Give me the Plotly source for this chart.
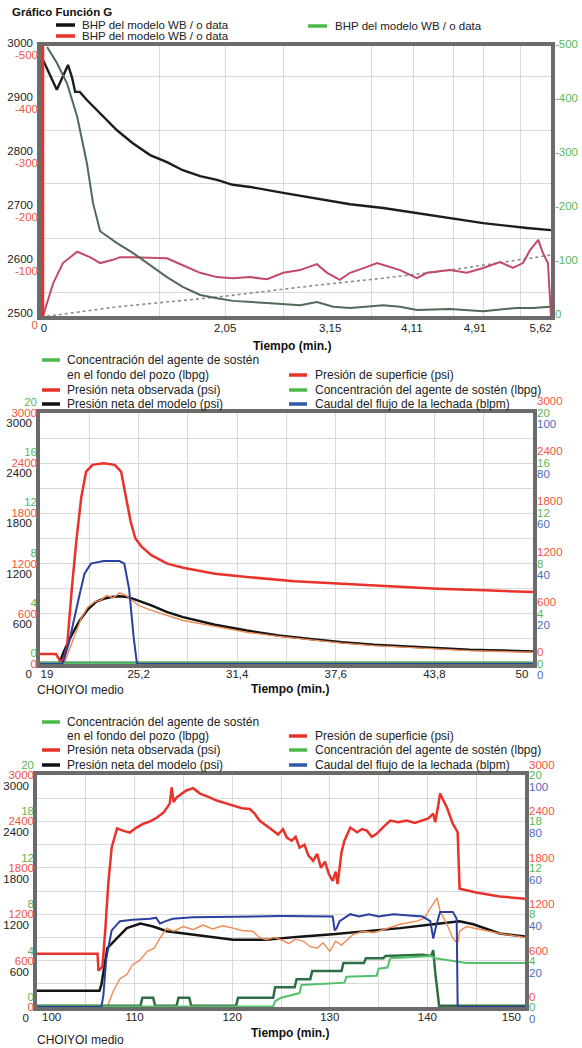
import plotly.graph_objects as go

W, H = 582, 1048
FONT = "Liberation Sans, Arial, Helvetica, sans-serif"

RED = "#e8322a"
BLACK = "#141414"
BLUE = "#2b3f9e"
DKGREEN = "#2f6e44"
LTGREEN = "#55c06a"
ORANGE = "#f08a52"
RED_LBL = "#f2553f"
GREEN_LBL = "#56b956"
BLUE_LBL = "#4a6cbb"
LEG_GREEN = "#4cb84c"
LEG_BLUE = "#2f5aa8"

# ---------------- Panel 1 : Gráfico Función G ----------------
# x = position along the G-function axis (0..1), labelled with elapsed minutes
p1_tick_pos = [0.006, 0.361, 0.567, 0.727, 0.851, 0.98]
p1_tick_txt = ["0", "2,05", "3,15", "4,11", "4,91", "5,62"]
p1_grid_x = [0.233, 0.3615, 0.475, 0.649, 0.7295, 0.808, 0.867, 0.941]
p1_grid_y = [2543, 2644, 2746, 2844, 2943]
p1_left_vals = [2500, 2600, 2700, 2800, 2900, 3000]
p1_neg_vals = [0, -100, -200, -300, -400, -500]

p1_bhp_black = [(0.004, 2974), (0.031, 2919), (0.053, 2965), (0.061, 2941), (0.067, 2915),
                (0.076, 2915), (0.090, 2900), (0.106, 2885), (0.116, 2876), (0.149, 2844),
                (0.180, 2820), (0.214, 2798), (0.247, 2785), (0.278, 2770), (0.312, 2759),
                (0.345, 2752), (0.376, 2743), (0.410, 2739), (0.475, 2728), (0.541, 2717),
                (0.606, 2707), (0.671, 2700), (0.737, 2691), (0.802, 2681), (0.867, 2672),
                (0.953, 2663), (1.0, 2659)]
p1_bhp_red = [(0.004, 0), (0.024, -61), (0.043, -98), (0.071, -119), (0.096, -109), (0.116, -98),
              (0.141, -104), (0.155, -109), (0.180, -109), (0.247, -107), (0.278, -94), (0.312, -80),
              (0.345, -72), (0.376, -70), (0.410, -72), (0.443, -68), (0.475, -80), (0.508, -85),
              (0.541, -96), (0.561, -80), (0.586, -67), (0.606, -80), (0.639, -91), (0.659, -98),
              (0.704, -85), (0.737, -70), (0.757, -80), (0.802, -85), (0.835, -80), (0.867, -89),
              (0.900, -100), (0.925, -89), (0.945, -98), (0.959, -122), (0.975, -141), (0.984, -117),
              (0.994, -98), (1.0, 0)]
p1_bhp_green = [(0.012, -498), (0.031, -469), (0.051, -431), (0.071, -369), (0.090, -283),
                (0.102, -209), (0.116, -157), (0.149, -135), (0.180, -117), (0.214, -94),
                (0.247, -72), (0.278, -54), (0.312, -39), (0.345, -33), (0.376, -28),
                (0.443, -24), (0.508, -20), (0.541, -26), (0.573, -17), (0.606, -15),
                (0.671, -20), (0.704, -17), (0.737, -11), (0.802, -13), (0.867, -9),
                (0.933, -15), (0.965, -15), (0.998, -17)]
p1_data_line = [(0.0, 2498), (0.149, 2517), (0.345, 2535), (0.541, 2557), (0.671, 2570),
                (0.802, 2585), (0.959, 2607), (1.0, 2613)]
p1_red_edge = [(0.003, 0), (0.003, -500)]

# ---------------- Panel 2 : 19 - 50 min ----------------
p2_tick_pos = [19.44, 25.2, 31.4, 37.6, 43.8, 49.3]
p2_tick_txt = ["19", "25,2", "31,4", "37,6", "43,8", "50"]
p2_grid_x = [22.1, 25.21, 28.3, 31.41, 34.5, 37.61, 40.7, 43.81, 46.9]

p2_surface = [(19.0, 120), (20.0, 120), (20.4, 0), (20.7, 200), (21.0, 900), (21.3, 1500),
              (21.6, 2000), (21.9, 2300), (22.3, 2380), (23.0, 2400), (23.7, 2380), (24.1, 2300),
              (24.4, 2000), (24.7, 1700), (25.0, 1500), (25.4, 1400), (26.0, 1300), (27.0, 1200),
              (28.0, 1150), (30.0, 1080), (32.0, 1040), (35.0, 990), (38.0, 960), (41.0, 930),
              (44.0, 900), (47.0, 880), (50.0, 860)]
p2_rate = [(19.0, 0), (20.4, 0), (20.8, 8), (21.2, 20), (21.5, 28), (21.8, 36), (22.2, 40),
           (23.0, 41), (24.0, 41), (24.3, 40), (24.6, 30), (24.9, 10), (25.1, 0), (50.0, 0)]
p2_net_model = [(19.0, 0), (20.2, 0), (20.5, 150), (21.0, 350), (21.5, 520), (22.0, 650),
                (22.5, 740), (23.0, 780), (23.5, 800), (24.0, 810), (24.5, 800), (25.0, 770),
                (26.0, 700), (27.0, 620), (28.0, 560), (30.0, 470), (32.0, 400), (34.0, 340),
                (36.0, 300), (38.0, 260), (40.0, 230), (42.0, 210), (44.0, 190), (46.0, 170),
                (48.0, 160), (50.0, 150)]
p2_net_obs = [(20.5, 0), (20.8, 150), (21.2, 350), (21.6, 550), (22.0, 680), (22.4, 740),
              (22.8, 760), (23.2, 820), (23.6, 790), (24.0, 850), (24.4, 820), (24.8, 760),
              (25.2, 700), (26.0, 640), (27.0, 580), (28.0, 520), (30.0, 450), (32.0, 380),
              (34.0, 330), (36.0, 290), (38.0, 250), (40.0, 220), (42.0, 200), (44.0, 180),
              (46.0, 160), (48.0, 150), (50.0, 140)]
p2_conc_bottom = [(19.0, 0.1), (30.0, 0.1), (40.0, 0.15), (50.0, 0.1)]
p2_conc_surface = [(19.0, 0.05), (50.0, 0.05)]

# ---------------- Panel 3 : 100 - 150 min ----------------
p3_tick_pos = [101.5, 110, 120, 130, 140, 148.6]
p3_tick_txt = ["100", "110", "120", "130", "140", "150"]
p3_grid_x = [105, 110.01, 115, 120.01, 125, 130.01, 135, 140.01, 145]

p3_surface = [(100, 690), (106.2, 690), (106.3, 470), (106.7, 520), (107.0, 1000), (107.3, 1590),
              (107.65, 2060), (108.2, 2310), (108.8, 2280), (109.5, 2255), (110.2, 2320),
              (110.9, 2370), (111.6, 2400), (112.3, 2450), (113.0, 2520), (113.6, 2630),
              (113.8, 2840), (114.0, 2650), (114.3, 2710), (115.3, 2800), (116.0, 2830),
              (116.7, 2760), (117.5, 2720), (118.4, 2670), (119.2, 2640), (120.1, 2600),
              (121.0, 2570), (121.8, 2560), (122.3, 2500), (122.8, 2410), (123.5, 2350),
              (124.2, 2280), (124.7, 2230), (125.2, 2300), (125.6, 2190), (126.1, 2150),
              (126.5, 2200), (126.9, 2060), (127.4, 2100), (127.8, 1960), (128.3, 1890),
              (128.7, 1980), (129.1, 1800), (129.5, 1880), (129.9, 1720), (130.3, 1630),
              (130.6, 1750), (130.8, 1590), (131.2, 2000), (131.5, 2150), (132.1, 2320),
              (132.8, 2260), (133.3, 2300), (133.8, 2280), (134.3, 2200), (134.8, 2240),
              (135.5, 2330), (136.2, 2410), (137.0, 2390), (137.9, 2410), (138.7, 2380),
              (139.5, 2410), (140.1, 2440), (140.6, 2500), (140.8, 2390), (141.1, 2600),
              (141.3, 2760), (141.6, 2680), (142.0, 2580), (142.6, 2370), (143.1, 2260),
              (143.3, 1530), (145.0, 1480), (147.4, 1430), (150.0, 1400)]
p3_rate = [(100, 0), (106.6, 0), (106.8, 5), (107.1, 21), (107.65, 33), (108.5, 37), (109.8, 37.6),
           (111.6, 38), (112.2, 38.5), (112.6, 36), (113.2, 37), (113.9, 38), (116, 38.7),
           (120, 39), (125, 39.2), (130.3, 39), (130.5, 33), (130.7, 34), (131, 37), (132.1, 40),
           (133, 39), (134, 40), (135, 39), (136.5, 40), (138, 39.5), (139.5, 39), (140.3, 37),
           (140.6, 29.5), (140.9, 35), (141.3, 41), (142.6, 41), (143.0, 38), (143.1, 0), (150, 0)]
p3_net_model = [(100, 210), (106.4, 210), (106.6, 290), (107.2, 760), (108.2, 890), (109.2, 1020),
                (110.6, 1080), (111.9, 1040), (113.3, 980), (115.3, 950), (118, 910), (120.1, 870),
                (123.5, 870), (126.9, 910), (130.3, 940), (133.8, 980), (137.2, 1020),
                (140.6, 1070), (143.3, 1110), (144.7, 1070), (147.4, 950), (150, 910)]
p3_net_obs = [(107.2, 0), (107.8, 200), (108.5, 365), (109.2, 420), (109.8, 550), (110.5, 600),
              (111.3, 720), (112, 760), (112.6, 890), (113.3, 1020), (114, 980), (115, 1040),
              (116, 1000), (117, 1060), (118, 1010), (119, 1050), (120.1, 1020), (121, 990),
              (122.1, 980), (122.8, 900), (123.5, 870), (124.3, 900), (125, 870), (125.8, 820),
              (126.5, 880), (127.3, 850), (128, 780), (128.7, 760), (129.3, 830), (130, 720),
              (130.6, 850), (131.2, 800), (132.4, 940), (133.5, 980), (134.5, 960), (135.5, 1000),
              (137.2, 1070), (138.9, 1110), (139.7, 1150), (140.3, 1280), (141, 1410),
              (141.3, 1240), (142, 1070), (142.6, 890), (143.1, 820), (143.3, 980), (144, 1040),
              (147.4, 950), (150, 900)]
p3_conc_bottom = [(100, 0.1), (110.6, 0.1), (110.8, 0.8), (111.9, 0.8), (112.1, 0.1), (114.3, 0.1),
                  (114.5, 0.8), (115.6, 0.8), (115.8, 0.1), (120.4, 0.1), (120.6, 0.8), (124.2, 0.8),
                  (124.4, 1.7), (126.4, 1.7), (126.6, 2.4), (128.0, 2.4), (128.2, 3.1), (131.2, 3.1),
                  (131.4, 3.8), (133.5, 3.8), (133.7, 4.2), (135.5, 4.2), (135.7, 4.4), (139.5, 4.5),
                  (140.4, 4.4), (140.6, 4.9), (140.8, 3.0), (141.2, 0.1), (150, 0.1)]
p3_conc_surface = [(100, 0.05), (124.2, 0.05), (124.4, 0.5), (125, 0.8), (126.9, 1.2), (127.1, 1.9),
                   (129.5, 2.0), (131.5, 2.1), (131.7, 2.6), (134.8, 2.7), (135, 3.3), (135.9, 3.4),
                   (136.2, 4.2), (140.4, 4.4), (140.8, 4.2), (141.5, 4.1), (144, 3.8), (150, 3.8)]

psi_vals = [0, 600, 1200, 1800, 2400, 3000]
psi_txt = ["0", "600", "1200", "1800", "2400", "3000"]
psi_grid = [300, 900, 1500, 2100, 2700]
lbpg_vals = [0, 4, 8, 12, 16, 20]
lbpg_txt_p2 = ["0", "4", "8", "12", "16", "20"]
lbpg_txt_p3 = ["0", "4", "8", "12", "18", "20"]
bpm_vals = [0, 20, 40, 60, 80, 100]
bpm_txt = ["0", "20", "40", "60", "80", "100"]

legend_top = ["BHP del modelo WB / o data", "BHP del modelo WB / o data", "BHP del modelo WB / o data"]
legend_left = ["Concentración del agente de sostén", "en el fondo del pozo (lbpg)",
               "Presión neta observada (psi)", "Presión neta del modelo (psi)"]
legend_right = ["Presión de superficie (psi)", "Concentración del agente de sostén (lbpg)",
                "Caudal del flujo de la lechada (blpm)"]


def px(x):
    return x / W


def py(y):
    return 1 - y / H


def xy(pairs):
    return [p[0] for p in pairs], [p[1] for p in pairs]


fig = go.Figure()


def add_line(pairs, xa, ya, color, width, dash=None):
    x, y = xy(pairs)
    fig.add_trace(go.Scatter(x=x, y=y, mode="lines", xaxis=xa, yaxis=ya,
                             line=dict(color=color, width=width, dash=dash),
                             hoverinfo="skip", showlegend=False))


# Panel 1 traces
add_line(p1_data_line, "x", "y", "#8c8c8c", 1.6, "dot")
add_line(p1_bhp_green, "x", "y3", "#4f6a56", 2)
add_line(p1_bhp_red, "x", "y2", "#c04a68", 2)
add_line(p1_bhp_black, "x", "y", "#1c1c1c", 2.4)
add_line(p1_red_edge, "x", "y2", RED, 3.5)

# Panel 2 traces
add_line(p2_conc_surface, "x2", "y8", LTGREEN, 2)
add_line(p2_conc_bottom, "x2", "y6", DKGREEN, 2.5)
add_line(p2_surface, "x2", "y7", RED, 2.5)
add_line(p2_rate, "x2", "y9", BLUE, 2)
add_line(p2_net_obs, "x2", "y5", ORANGE, 1.4)
add_line(p2_net_model, "x2", "y4", BLACK, 2.5)

# Panel 3 traces
add_line(p3_conc_surface, "x3", "y14", LTGREEN, 2)
add_line(p3_conc_bottom, "x3", "y12", DKGREEN, 2.5)
add_line(p3_surface, "x3", "y13", RED, 2.5)
add_line(p3_rate, "x3", "y15", BLUE, 2)
add_line(p3_net_obs, "x3", "y11", ORANGE, 1.4)
add_line(p3_net_model, "x3", "y10", BLACK, 2.5)

FRAME = dict(showline=True, mirror=True, linewidth=3.5, linecolor="#6b6b6b", zeroline=False)
GRID = "#dadada"
TICKSIZE = 11.5


def xcfg(domain, anchor, rng, tvals, ttxt, gridvals, standoff=-4):
    return dict(domain=domain, anchor=anchor, range=rng, tickmode="array", tickvals=tvals,
                ticktext=ttxt, ticks="", showgrid=False, automargin=False,
                tickfont=dict(size=TICKSIZE, color="#222"), ticklabelstandoff=standoff,
                minor=dict(tickmode="array", tickvals=gridvals, showgrid=True, gridcolor=GRID,
                           gridwidth=1, ticks=""), **FRAME)


def ycfg(rng, tvals, ttxt, color, shift, side, anchor, overlaying=None, domain=None,
         grid=None, major_grid=False):
    # empirically: positive ticklabelshift moves labels down on a normal axis, up on a reversed one
    d = dict(range=rng, tickmode="array", tickvals=tvals, ticktext=ttxt, ticks="", side=side,
             anchor=anchor, tickfont=dict(size=TICKSIZE, color=color), ticklabelshift=shift,
             ticklabelstandoff=(2 if side == "left" else 3), showgrid=major_grid,
             gridcolor=GRID, zeroline=False, automargin=False)
    if overlaying:
        d["overlaying"] = overlaying
        d["showline"] = False
    else:
        d["domain"] = domain
        d.update(FRAME)
    if grid is not None:
        d["minor"] = dict(tickmode="array", tickvals=grid, showgrid=True, gridcolor=GRID,
                          gridwidth=1, ticks="")
    return d


neg_txt = [str(v) for v in p1_neg_vals]
layout = dict(
    width=W, height=H, margin=dict(l=0, r=0, t=0, b=0, pad=0, autoexpand=False),
    paper_bgcolor="white", plot_bgcolor="white", showlegend=False,
    font=dict(family=FONT, size=12, color="#222"),
    xaxis=xcfg([px(41), px(551)], "y", [0, 1], p1_tick_pos, p1_tick_txt, p1_grid_x, standoff=-2),
    yaxis=ycfg([2500, 3000], p1_left_vals, [str(v) for v in p1_left_vals], "#222", -3, "left", "x",
               domain=[py(316), py(46)], grid=p1_grid_y),
    yaxis2=ycfg([0, -500], p1_neg_vals, neg_txt, RED_LBL, -9, "left", "x", overlaying="y"),
    yaxis3=ycfg([0, -500], p1_neg_vals, neg_txt, GREEN_LBL, 2, "right", "x", overlaying="y"),

    xaxis2=xcfg([px(40), px(533)], "y4", [19, 50], p2_tick_pos, p2_tick_txt, p2_grid_x),
    yaxis4=ycfg([0, 3000], psi_vals, psi_txt, "#222", 10, "left", "x2",
                domain=[py(664), py(413)], grid=psi_grid, major_grid=True),
    yaxis5=ycfg([0, 3000], psi_vals, psi_txt, RED_LBL, 0, "left", "x2", overlaying="y4"),
    yaxis6=ycfg([0, 20], lbpg_vals, lbpg_txt_p2, GREEN_LBL, -11, "left", "x2", overlaying="y4"),
    yaxis7=ycfg([0, 3000], psi_vals, psi_txt, RED_LBL, -12, "right", "x2", overlaying="y4"),
    yaxis8=ycfg([0, 20], lbpg_vals, lbpg_txt_p2, GREEN_LBL, 0, "right", "x2", overlaying="y4"),
    yaxis9=ycfg([0, 100], bpm_vals, bpm_txt, BLUE_LBL, 11, "right", "x2", overlaying="y4"),

    xaxis3=xcfg([px(37), px(525)], "y10", [100, 150], p3_tick_pos, p3_tick_txt, p3_grid_x),
    yaxis10=ycfg([0, 3000], psi_vals, psi_txt, "#222", 11, "left", "x3",
                 domain=[py(1007), py(775)], grid=psi_grid, major_grid=True),
    yaxis11=ycfg([0, 3000], psi_vals, psi_txt, RED_LBL, 0, "left", "x3", overlaying="y10"),
    yaxis12=ycfg([0, 20], lbpg_vals, lbpg_txt_p3, GREEN_LBL, -10, "left", "x3", overlaying="y10"),
    yaxis13=ycfg([0, 3000], psi_vals, psi_txt, RED_LBL, -10, "right", "x3", overlaying="y10"),
    yaxis14=ycfg([0, 20], lbpg_vals, lbpg_txt_p3, GREEN_LBL, 0, "right", "x3", overlaying="y10"),
    yaxis15=ycfg([0, 100], bpm_vals, bpm_txt, BLUE_LBL, 12, "right", "x3", overlaying="y10"),
)
fig.update_layout(**layout)

annotations = []
shapes = []


def text(x, y, s, size=12, color="#222", bold=False, anchor="left"):
    annotations.append(dict(x=px(x), y=py(y), xref="paper", yref="paper", showarrow=False,
                            text=f"<b>{s}</b>" if bold else s, xanchor=anchor, yanchor="middle",
                            font=dict(size=size, color=color, family=FONT)))


def swatch(x0, x1, y, color):
    shapes.append(dict(type="line", xref="paper", yref="paper", x0=px(x0), x1=px(x1),
                       y0=py(y), y1=py(y), line=dict(color=color, width=3.5)))


# Panel 1 header / legend
text(10, 12, "Gráfico Función G", size=11.5, color="#111", bold=True)
swatch(56, 75, 25, "#111")
text(80, 25, legend_top[0], size=11.5)
swatch(56, 75, 36, RED)
text(80, 36, legend_top[1], size=11.5)
swatch(308, 327, 26, LEG_GREEN)
text(333, 26, legend_top[2], size=11.5)
text(292, 346, "Tiempo (min.)", size=12, color="#111", bold=True, anchor="center")


def panel_legend(rows):
    r0, r1, r2, r3 = rows
    swatch(42, 60, r0, LEG_GREEN)
    text(65, r0, legend_left[0])
    text(65, r1, legend_left[1])
    swatch(42, 60, r2, RED)
    text(65, r2, legend_left[2])
    swatch(42, 60, r3, "#111")
    text(65, r3, legend_left[3])
    swatch(289, 307, r1, RED)
    text(313, r1, legend_right[0])
    swatch(289, 307, r2, LEG_GREEN)
    text(313, r2, legend_right[1])
    swatch(289, 307, r3, LEG_BLUE)
    text(313, r3, legend_right[2])


panel_legend([360, 375, 390, 404])
text(290, 689, "Tiempo (min.)", size=12, color="#111", bold=True, anchor="center")
text(35, 690, "CHOIYOI medio", size=12, color="#222")

panel_legend([722, 736, 750, 765])
text(290, 1033, "Tiempo (min.)", size=12, color="#111", bold=True, anchor="center")
text(35, 1040, "CHOIYOI medio", size=12, color="#222")

fig.update_layout(annotations=annotations, shapes=shapes)
fig.write_html("out.html")
